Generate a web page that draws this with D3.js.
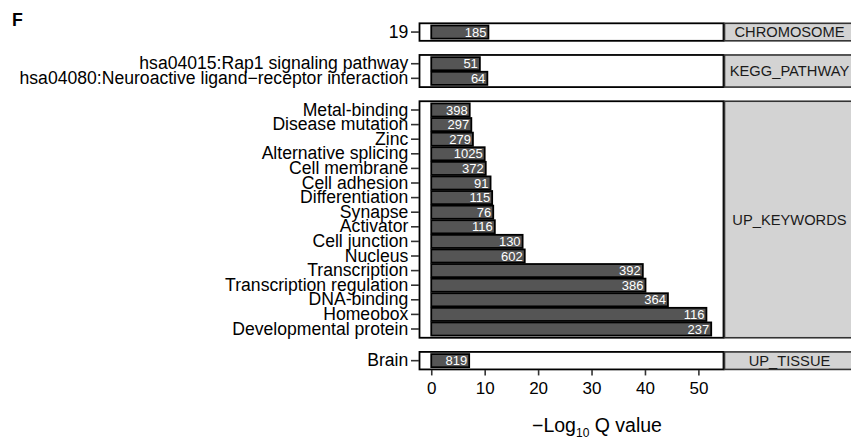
<!DOCTYPE html>
<html>
<head>
<meta charset="utf-8">
<title>F</title>
<script src="https://cdn.jsdelivr.net/npm/d3@7"></script>
<style>
body { margin:0; background:#fff; }
text { font-family:"Liberation Sans", Arial, sans-serif; }
</style>
</head>
<body>
<svg id="chart" width="851" height="438"></svg>
<script>
// data (top to bottom as drawn)
var groups = ["CHROMOSOME", "KEGG_PATHWAY", "UP_KEYWORDS", "UP_TISSUE"];
var chromTerms = ["19"];
var chromQ = [10.7];
var chromCount = [185];
var keggTerms = ["hsa04015:Rap1 signaling pathway", "hsa04080:Neuroactive ligand\u2212receptor interaction"];
var keggQ = [9.1, 10.5];
var keggCount = [51, 64];
var kwTerms = ["Metal-binding", "Disease mutation", "Zinc", "Alternative splicing", "Cell membrane",
  "Cell adhesion", "Differentiation", "Synapse", "Activator", "Cell junction", "Nucleus",
  "Transcription", "Transcription regulation", "DNA-binding", "Homeobox", "Developmental protein"];
var kwQ = [7.2, 7.5, 7.8, 10.0, 10.2, 11.1, 11.4, 11.6, 11.9, 17.1, 17.5, 39.6, 40.1, 44.3, 51.5, 52.4];
var kwCount = [398, 297, 279, 1025, 372, 91, 115, 76, 116, 130, 602, 392, 386, 364, 116, 237];
var tissueTerms = ["Brain"];
var tissueQ = [7.1];
var tissueCount = [819];
var xTicks = [0, 10, 20, 30, 40, 50];

var panels = [
  {name: groups[0], terms: chromTerms, q: chromQ, n: chromCount},
  {name: groups[1], terms: keggTerms, q: keggQ, n: keggCount},
  {name: groups[2], terms: kwTerms, q: kwQ, n: kwCount},
  {name: groups[3], terms: tissueTerms, q: tissueQ, n: tissueCount}
];

var svg = d3.select("#chart");
var left = 419.5, right = 723.5, stripW = 130;
var unit = 14.6, gap = 14.15, topY = 23.3;

var x = d3.scaleLinear().domain([-2.2, 54.7]).range([left, right]);

svg.append("text").attr("x", 12).attr("y", 26)
  .attr("font-size", 17.7).attr("font-weight", "bold").text("F");

var y0 = topY;
panels.forEach(function(p) {
  var h = unit * (p.terms.length + 0.2);
  var y = d3.scaleBand().domain(p.terms).range([y0, y0 + h])
    .paddingInner(0.1).paddingOuter(0.15);
  var g = svg.append("g");

  g.append("rect").attr("x", left).attr("y", y0).attr("width", right - left).attr("height", h)
    .attr("fill", "#fff");

  g.selectAll("rect.bar").data(p.terms).enter().append("rect").attr("class", "bar")
    .attr("x", x(0)).attr("y", function(d) { return y(d); })
    .attr("width", function(d, i) { return x(p.q[i]) - x(0); })
    .attr("height", y.bandwidth())
    .attr("fill", "#555").attr("stroke", "#000").attr("stroke-width", 1.8);

  g.selectAll("text.cnt").data(p.terms).enter().append("text").attr("class", "cnt")
    .attr("x", function(d, i) { return x(p.q[i]) - 2; })
    .attr("y", function(d) { return y(d) + y.bandwidth() / 2; })
    .attr("dy", "0.36em").attr("text-anchor", "end")
    .attr("font-size", 13).attr("fill", "#fff")
    .text(function(d, i) { return p.n[i]; });

  g.append("rect").attr("x", left).attr("y", y0).attr("width", right - left).attr("height", h)
    .attr("fill", "none").attr("stroke", "#000").attr("stroke-width", 1.8);

  var ax = g.append("g").attr("transform", "translate(" + (left - 0.5) + ",0)")
    .call(d3.axisLeft(y).tickSize(8).tickPadding(2.7));
  ax.select(".domain").remove();
  ax.selectAll(".tick line").attr("stroke", "#333").attr("stroke-width", 1.6);
  ax.selectAll(".tick text").attr("font-size", 17.6).attr("fill", "#000")
    .attr("font-family", "Liberation Sans, Arial, sans-serif");

  // strip
  g.append("rect").attr("x", right + 1).attr("y", y0).attr("width", stripW).attr("height", h)
    .attr("fill", "#d3d3d3").attr("stroke", "#333").attr("stroke-width", 1.6);
  g.append("text").attr("x", right + 1 + stripW / 2).attr("y", y0 + h / 2).attr("dy", "0.36em")
    .attr("text-anchor", "middle").attr("font-size", 14.7).attr("fill", "#1a1a1a")
    .text(p.name);

  p.bottom = y0 + h;
  y0 += h + gap;
});

var lastBottom = panels[panels.length - 1].bottom;
var xa = svg.append("g").attr("transform", "translate(0," + (lastBottom + 0.5) + ")")
  .call(d3.axisBottom(x).tickValues(xTicks).tickSize(5.5).tickPadding(6.3));
xa.select(".domain").remove();
xa.selectAll(".tick line").attr("stroke", "#333").attr("stroke-width", 1.6);
xa.selectAll(".tick text").attr("font-size", 17).attr("fill", "#000")
  .attr("font-family", "Liberation Sans, Arial, sans-serif");

var title = svg.append("text").attr("x", 597).attr("y", 432)
  .attr("text-anchor", "middle").attr("font-size", 19.5).attr("fill", "#000");
title.append("tspan").text("\u2212Log");
title.append("tspan").attr("font-size", 12).attr("dy", 5).text("10");
title.append("tspan").attr("dy", -5).text(" Q value");
</script>
</body>
</html>
